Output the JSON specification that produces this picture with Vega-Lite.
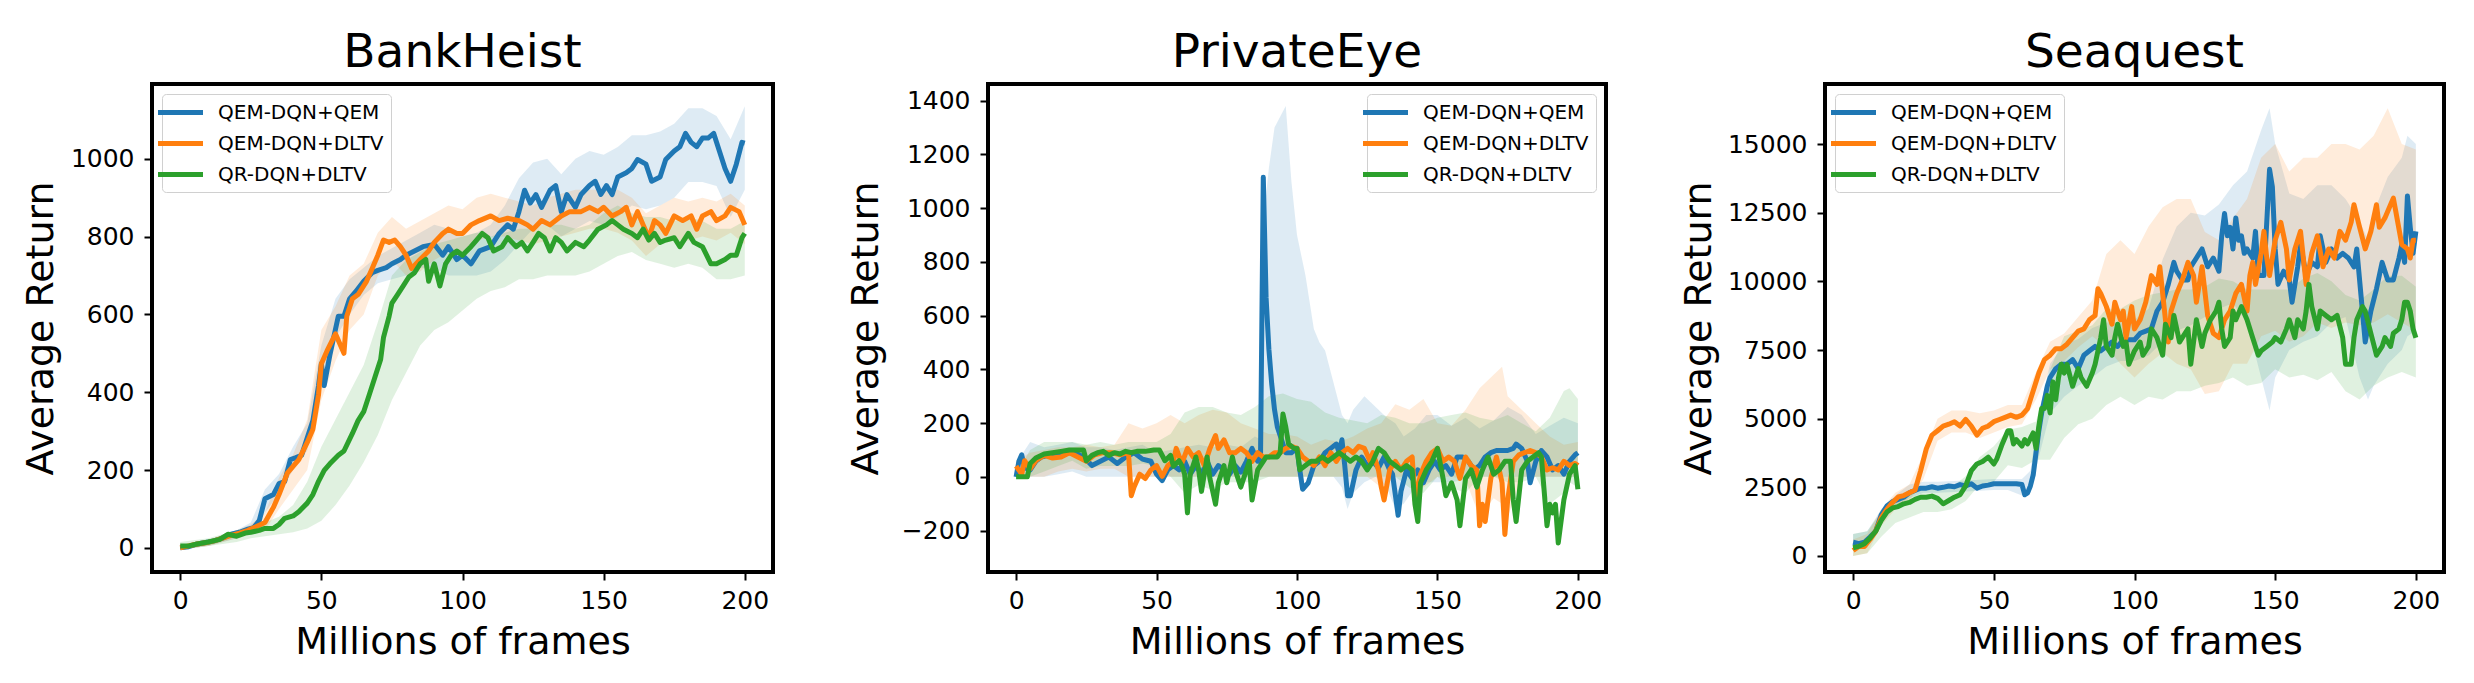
{
  "$schema": "https://vega.github.io/schema/vega-lite/v6.json",
  "background": "white",
  "padding": {"left": 20, "top": 27, "right": 5, "bottom": 5},
  "spacing": 70,
  "config": {
    "font": "DejaVu Sans",
    "view": {"stroke": "black", "strokeWidth": 4},
    "axis": {"domain": false, "grid": false, "tickColor": "black", "tickWidth": 2, "tickSize": 8, "labelFontSize": 25, "labelColor": "black", "labelFont": "DejaVu Sans", "titleFontSize": 38, "titleFontWeight": "normal", "titleColor": "black", "titleFont": "DejaVu Sans", "labelFlush": false, "labelOverlap": false},
    "axisX": {"labelPadding": 8, "titlePadding": 10},
    "axisY": {"labelPadding": 10, "titlePadding": 10},
    "title": {"fontSize": 47, "fontWeight": "normal", "font": "DejaVu Sans", "color": "black", "anchor": "middle", "offset": 7, "baseline": "top"},
    "legend": {"offset": 10, "symbolType": "M-2.5,0H2.5", "symbolSize": 324, "symbolStrokeWidth": 5, "symbolOpacity": 1, "rowPadding": 9, "labelFontSize": 20, "labelLimit": 400, "labelFont": "DejaVu Sans", "labelColor": "black", "labelOffset": 26, "padding": 7, "fillColor": "white", "strokeColor": "#d0d0d0", "cornerRadius": 4},
    "line": {"strokeWidth": 5, "strokeJoin": "round"}
  },
  "datasets": {
    "bh_q": [{"x":0,"y":0},{"x":3,"y":3},{"x":6,"y":10},{"x":9,"y":14},{"x":12,"y":18},{"x":15,"y":25},{"x":18,"y":35},{"x":21,"y":40},{"x":24,"y":48},{"x":26,"y":52},{"x":28,"y":70},{"x":30,"y":126},{"x":33,"y":137},{"x":35,"y":165},{"x":37,"y":170},{"x":39,"y":227},{"x":41,"y":232},{"x":43,"y":238},{"x":45,"y":283},{"x":47,"y":327},{"x":49,"y":417},{"x":50,"y":473},{"x":51,"y":417},{"x":53,"y":495},{"x":56,"y":595},{"x":58,"y":595},{"x":60,"y":640},{"x":62,"y":657},{"x":65,"y":685},{"x":68,"y":707},{"x":70,"y":713},{"x":73,"y":720},{"x":75,"y":730},{"x":78,"y":741},{"x":80,"y":752},{"x":83,"y":763},{"x":86,"y":774},{"x":90,"y":780},{"x":93,"y":752},{"x":95,"y":774},{"x":98,"y":741},{"x":100,"y":752},{"x":103,"y":730},{"x":106,"y":763},{"x":110,"y":774},{"x":113,"y":808},{"x":116,"y":830},{"x":118,"y":819},{"x":120,"y":864},{"x":122,"y":919},{"x":124,"y":886},{"x":126,"y":908},{"x":128,"y":875},{"x":131,"y":919},{"x":133,"y":931},{"x":135,"y":864},{"x":137,"y":908},{"x":140,"y":875},{"x":142,"y":908},{"x":145,"y":931},{"x":147,"y":942},{"x":149,"y":908},{"x":151,"y":931},{"x":153,"y":908},{"x":155,"y":953},{"x":158,"y":964},{"x":160,"y":975},{"x":162,"y":998},{"x":165,"y":986},{"x":167,"y":942},{"x":170,"y":953},{"x":172,"y":998},{"x":175,"y":1020},{"x":177,"y":1031},{"x":179,"y":1065},{"x":181,"y":1042},{"x":183,"y":1031},{"x":185,"y":1053},{"x":187,"y":1053},{"x":189,"y":1065},{"x":191,"y":1020},{"x":193,"y":975},{"x":195,"y":942},{"x":197,"y":986},{"x":199,"y":1042},{"x":200,"y":1040}],
    "bh_d": [{"x":0,"y":0},{"x":3,"y":5},{"x":6,"y":10},{"x":9,"y":13},{"x":12,"y":18},{"x":15,"y":25},{"x":18,"y":32},{"x":21,"y":38},{"x":24,"y":45},{"x":27,"y":55},{"x":30,"y":65},{"x":33,"y":104},{"x":35,"y":137},{"x":38,"y":193},{"x":42,"y":227},{"x":45,"y":271},{"x":47,"y":305},{"x":49,"y":394},{"x":50,"y":473},{"x":52,"y":506},{"x":55,"y":550},{"x":57,"y":517},{"x":58,"y":500},{"x":59,"y":595},{"x":61,"y":640},{"x":63,"y":651},{"x":66,"y":685},{"x":68,"y":718},{"x":70,"y":752},{"x":72,"y":791},{"x":74,"y":785},{"x":76,"y":791},{"x":78,"y":774},{"x":80,"y":752},{"x":82,"y":718},{"x":85,"y":741},{"x":88,"y":763},{"x":90,"y":785},{"x":93,"y":808},{"x":95,"y":819},{"x":98,"y":808},{"x":100,"y":808},{"x":103,"y":830},{"x":106,"y":841},{"x":110,"y":853},{"x":113,"y":841},{"x":116,"y":847},{"x":120,"y":841},{"x":123,"y":830},{"x":125,"y":819},{"x":128,"y":841},{"x":131,"y":830},{"x":135,"y":853},{"x":138,"y":864},{"x":142,"y":864},{"x":145,"y":875},{"x":148,"y":864},{"x":150,"y":875},{"x":153,"y":853},{"x":156,"y":864},{"x":158,"y":875},{"x":160,"y":830},{"x":162,"y":864},{"x":164,"y":830},{"x":166,"y":797},{"x":168,"y":841},{"x":170,"y":830},{"x":172,"y":808},{"x":175,"y":853},{"x":178,"y":841},{"x":181,"y":853},{"x":183,"y":819},{"x":185,"y":853},{"x":188,"y":864},{"x":190,"y":841},{"x":193,"y":853},{"x":195,"y":875},{"x":198,"y":864},{"x":200,"y":830}],
    "bh_r": [{"x":0,"y":5},{"x":3,"y":5},{"x":6,"y":10},{"x":10,"y":15},{"x":14,"y":22},{"x":17,"y":35},{"x":20,"y":30},{"x":23,"y":38},{"x":25,"y":40},{"x":28,"y":45},{"x":30,"y":50},{"x":33,"y":50},{"x":35,"y":60},{"x":37,"y":76},{"x":40,"y":82},{"x":42,"y":93},{"x":45,"y":115},{"x":47,"y":137},{"x":49,"y":171},{"x":51,"y":199},{"x":53,"y":216},{"x":56,"y":238},{"x":58,"y":249},{"x":61,"y":294},{"x":63,"y":327},{"x":65,"y":350},{"x":67,"y":394},{"x":69,"y":439},{"x":71,"y":484},{"x":72,"y":540},{"x":74,"y":595},{"x":75,"y":629},{"x":77,"y":651},{"x":79,"y":673},{"x":81,"y":696},{"x":83,"y":707},{"x":85,"y":730},{"x":87,"y":741},{"x":88,"y":685},{"x":90,"y":730},{"x":92,"y":673},{"x":94,"y":730},{"x":96,"y":752},{"x":98,"y":763},{"x":100,"y":752},{"x":103,"y":774},{"x":105,"y":791},{"x":107,"y":808},{"x":109,"y":797},{"x":111,"y":763},{"x":114,"y":774},{"x":116,"y":797},{"x":119,"y":774},{"x":121,"y":785},{"x":123,"y":763},{"x":125,"y":785},{"x":127,"y":808},{"x":129,"y":797},{"x":131,"y":763},{"x":133,"y":797},{"x":135,"y":785},{"x":137,"y":763},{"x":140,"y":785},{"x":143,"y":774},{"x":145,"y":791},{"x":148,"y":819},{"x":151,"y":830},{"x":153,"y":841},{"x":155,"y":830},{"x":157,"y":819},{"x":160,"y":808},{"x":162,"y":797},{"x":164,"y":819},{"x":166,"y":791},{"x":168,"y":808},{"x":170,"y":785},{"x":172,"y":791},{"x":175,"y":797},{"x":177,"y":774},{"x":180,"y":808},{"x":182,"y":785},{"x":185,"y":774},{"x":188,"y":730},{"x":190,"y":730},{"x":193,"y":741},{"x":195,"y":752},{"x":197,"y":752},{"x":199,"y":797},{"x":200,"y":808}],
    "bh_q_band": [{"x":0,"lo":-5,"hi":5},{"x":10,"lo":5,"hi":20},{"x":20,"lo":25,"hi":45},{"x":25,"lo":40,"hi":65},{"x":30,"lo":90,"hi":150},{"x":35,"lo":140,"hi":190},{"x":40,"lo":200,"hi":260},{"x":45,"lo":250,"hi":320},{"x":50,"lo":420,"hi":520},{"x":55,"lo":540,"hi":640},{"x":60,"lo":600,"hi":690},{"x":65,"lo":650,"hi":720},{"x":70,"lo":680,"hi":750},{"x":75,"lo":690,"hi":770},{"x":80,"lo":700,"hi":790},{"x":85,"lo":720,"hi":810},{"x":90,"lo":720,"hi":830},{"x":95,"lo":700,"hi":820},{"x":100,"lo":700,"hi":800},{"x":105,"lo":700,"hi":810},{"x":110,"lo":710,"hi":830},{"x":115,"lo":740,"hi":880},{"x":120,"lo":780,"hi":950},{"x":125,"lo":820,"hi":990},{"x":130,"lo":830,"hi":1000},{"x":135,"lo":800,"hi":960},{"x":140,"lo":820,"hi":1000},{"x":145,"lo":840,"hi":1020},{"x":150,"lo":830,"hi":1010},{"x":155,"lo":850,"hi":1030},{"x":160,"lo":880,"hi":1060},{"x":165,"lo":870,"hi":1060},{"x":170,"lo":880,"hi":1070},{"x":175,"lo":900,"hi":1090},{"x":180,"lo":940,"hi":1130},{"x":185,"lo":940,"hi":1130},{"x":190,"lo":930,"hi":1110},{"x":195,"lo":850,"hi":1050},{"x":200,"lo":920,"hi":1135}],
    "bh_d_band": [{"x":0,"lo":-5,"hi":5},{"x":10,"lo":5,"hi":20},{"x":20,"lo":25,"hi":45},{"x":25,"lo":35,"hi":60},{"x":30,"lo":45,"hi":90},{"x":35,"lo":100,"hi":180},{"x":40,"lo":150,"hi":240},{"x":45,"lo":200,"hi":330},{"x":50,"lo":380,"hi":560},{"x":55,"lo":480,"hi":620},{"x":60,"lo":560,"hi":700},{"x":65,"lo":600,"hi":730},{"x":70,"lo":700,"hi":810},{"x":75,"lo":740,"hi":850},{"x":80,"lo":700,"hi":820},{"x":85,"lo":710,"hi":840},{"x":90,"lo":740,"hi":860},{"x":95,"lo":760,"hi":880},{"x":100,"lo":760,"hi":870},{"x":105,"lo":790,"hi":900},{"x":110,"lo":800,"hi":910},{"x":115,"lo":800,"hi":900},{"x":120,"lo":790,"hi":890},{"x":125,"lo":780,"hi":880},{"x":130,"lo":790,"hi":900},{"x":135,"lo":800,"hi":910},{"x":140,"lo":810,"hi":920},{"x":145,"lo":820,"hi":920},{"x":150,"lo":820,"hi":920},{"x":155,"lo":810,"hi":920},{"x":160,"lo":790,"hi":900},{"x":165,"lo":750,"hi":860},{"x":170,"lo":780,"hi":880},{"x":175,"lo":790,"hi":900},{"x":180,"lo":790,"hi":890},{"x":185,"lo":800,"hi":900},{"x":190,"lo":790,"hi":890},{"x":195,"lo":810,"hi":910},{"x":200,"lo":780,"hi":880}],
    "bh_r_band": [{"x":0,"lo":-5,"hi":15},{"x":10,"lo":5,"hi":25},{"x":20,"lo":15,"hi":45},{"x":25,"lo":25,"hi":55},{"x":30,"lo":30,"hi":65},{"x":35,"lo":35,"hi":80},{"x":40,"lo":40,"hi":110},{"x":45,"lo":50,"hi":170},{"x":50,"lo":70,"hi":260},{"x":55,"lo":110,"hi":330},{"x":60,"lo":160,"hi":400},{"x":65,"lo":220,"hi":470},{"x":70,"lo":290,"hi":580},{"x":75,"lo":380,"hi":700},{"x":80,"lo":450,"hi":740},{"x":85,"lo":520,"hi":760},{"x":90,"lo":560,"hi":780},{"x":95,"lo":580,"hi":790},{"x":100,"lo":610,"hi":800},{"x":105,"lo":640,"hi":810},{"x":110,"lo":660,"hi":800},{"x":115,"lo":670,"hi":810},{"x":120,"lo":690,"hi":820},{"x":125,"lo":690,"hi":820},{"x":130,"lo":700,"hi":830},{"x":135,"lo":700,"hi":830},{"x":140,"lo":700,"hi":820},{"x":145,"lo":710,"hi":830},{"x":150,"lo":730,"hi":860},{"x":155,"lo":750,"hi":880},{"x":160,"lo":760,"hi":860},{"x":165,"lo":740,"hi":850},{"x":170,"lo":730,"hi":850},{"x":175,"lo":720,"hi":840},{"x":180,"lo":730,"hi":850},{"x":185,"lo":720,"hi":840},{"x":190,"lo":690,"hi":820},{"x":195,"lo":690,"hi":820},{"x":200,"lo":700,"hi":840}],
    "pe_q": [{"x":0,"y":0},{"x":1,"y":58},{"x":2,"y":82},{"x":3,"y":34},{"x":5,"y":26},{"x":7,"y":58},{"x":9,"y":74},{"x":12,"y":82},{"x":15,"y":90},{"x":18,"y":90},{"x":21,"y":90},{"x":24,"y":74},{"x":27,"y":42},{"x":30,"y":58},{"x":33,"y":74},{"x":36,"y":50},{"x":39,"y":74},{"x":42,"y":90},{"x":45,"y":66},{"x":48,"y":58},{"x":50,"y":10},{"x":52,"y":-14},{"x":54,"y":26},{"x":56,"y":42},{"x":58,"y":26},{"x":60,"y":58},{"x":62,"y":10},{"x":64,"y":42},{"x":66,"y":10},{"x":68,"y":58},{"x":70,"y":10},{"x":72,"y":42},{"x":74,"y":26},{"x":76,"y":10},{"x":78,"y":42},{"x":80,"y":18},{"x":82,"y":58},{"x":84,"y":106},{"x":86,"y":58},{"x":87,"y":58},{"x":88,"y":1115},{"x":89,"y":666},{"x":90,"y":474},{"x":91,"y":346},{"x":92,"y":250},{"x":93,"y":186},{"x":94,"y":154},{"x":95,"y":122},{"x":96,"y":90},{"x":98,"y":90},{"x":100,"y":106},{"x":101,"y":26},{"x":102,"y":-46},{"x":104,"y":-22},{"x":106,"y":42},{"x":108,"y":58},{"x":110,"y":90},{"x":112,"y":106},{"x":114,"y":122},{"x":115,"y":90},{"x":116,"y":138},{"x":117,"y":42},{"x":118,"y":-70},{"x":119,"y":-70},{"x":121,"y":26},{"x":123,"y":74},{"x":125,"y":42},{"x":127,"y":58},{"x":129,"y":34},{"x":131,"y":74},{"x":133,"y":26},{"x":134,"y":10},{"x":136,"y":-143},{"x":137,"y":-54},{"x":139,"y":26},{"x":141,"y":-6},{"x":143,"y":26},{"x":145,"y":-22},{"x":147,"y":26},{"x":149,"y":58},{"x":151,"y":26},{"x":153,"y":42},{"x":155,"y":10},{"x":157,"y":74},{"x":159,"y":74},{"x":161,"y":58},{"x":163,"y":26},{"x":165,"y":42},{"x":167,"y":74},{"x":169,"y":90},{"x":171,"y":98},{"x":173,"y":98},{"x":175,"y":98},{"x":177,"y":106},{"x":178,"y":122},{"x":180,"y":106},{"x":182,"y":58},{"x":183,"y":-22},{"x":185,"y":58},{"x":187,"y":98},{"x":189,"y":74},{"x":191,"y":26},{"x":193,"y":42},{"x":195,"y":10},{"x":197,"y":58},{"x":199,"y":82},{"x":200,"y":90}],
    "pe_d": [{"x":0,"y":40},{"x":2,"y":10},{"x":3,"y":60},{"x":5,"y":30},{"x":7,"y":60},{"x":10,"y":80},{"x":13,"y":70},{"x":16,"y":74},{"x":19,"y":90},{"x":22,"y":74},{"x":25,"y":58},{"x":28,"y":82},{"x":31,"y":90},{"x":34,"y":90},{"x":37,"y":82},{"x":40,"y":90},{"x":41,"y":-70},{"x":42,"y":-38},{"x":44,"y":10},{"x":46,"y":-6},{"x":48,"y":26},{"x":50,"y":42},{"x":52,"y":2},{"x":54,"y":42},{"x":56,"y":58},{"x":57,"y":106},{"x":59,"y":50},{"x":61,"y":106},{"x":63,"y":74},{"x":65,"y":90},{"x":67,"y":42},{"x":69,"y":106},{"x":71,"y":154},{"x":72,"y":106},{"x":74,"y":138},{"x":76,"y":90},{"x":78,"y":90},{"x":80,"y":106},{"x":82,"y":90},{"x":84,"y":58},{"x":86,"y":90},{"x":88,"y":74},{"x":90,"y":74},{"x":92,"y":90},{"x":94,"y":90},{"x":96,"y":106},{"x":98,"y":114},{"x":100,"y":106},{"x":102,"y":74},{"x":104,"y":58},{"x":106,"y":42},{"x":108,"y":74},{"x":110,"y":42},{"x":112,"y":90},{"x":114,"y":58},{"x":116,"y":90},{"x":118,"y":106},{"x":120,"y":90},{"x":122,"y":114},{"x":124,"y":106},{"x":126,"y":58},{"x":127,"y":90},{"x":129,"y":26},{"x":130,"y":-38},{"x":131,"y":-86},{"x":133,"y":26},{"x":135,"y":58},{"x":137,"y":26},{"x":139,"y":58},{"x":141,"y":74},{"x":142,"y":-86},{"x":144,"y":10},{"x":146,"y":58},{"x":148,"y":90},{"x":150,"y":106},{"x":152,"y":58},{"x":154,"y":74},{"x":156,"y":58},{"x":158,"y":-6},{"x":160,"y":74},{"x":162,"y":42},{"x":164,"y":26},{"x":165,"y":-182},{"x":166,"y":-102},{"x":167,"y":-166},{"x":169,"y":-6},{"x":171,"y":74},{"x":173,"y":-22},{"x":174,"y":-214},{"x":175,"y":-86},{"x":177,"y":58},{"x":179,"y":82},{"x":181,"y":90},{"x":183,"y":98},{"x":185,"y":90},{"x":187,"y":74},{"x":189,"y":26},{"x":191,"y":34},{"x":193,"y":26},{"x":195,"y":58},{"x":197,"y":42},{"x":199,"y":50},{"x":200,"y":42}],
    "pe_r": [{"x":0,"y":0},{"x":4,"y":0},{"x":5,"y":50},{"x":7,"y":70},{"x":10,"y":85},{"x":13,"y":90},{"x":16,"y":95},{"x":19,"y":100},{"x":22,"y":100},{"x":24,"y":100},{"x":25,"y":60},{"x":27,"y":80},{"x":29,"y":90},{"x":31,"y":95},{"x":33,"y":80},{"x":35,"y":90},{"x":37,"y":85},{"x":39,"y":95},{"x":41,"y":90},{"x":43,"y":95},{"x":46,"y":95},{"x":49,"y":100},{"x":51,"y":100},{"x":53,"y":60},{"x":55,"y":80},{"x":56,"y":40},{"x":58,"y":60},{"x":59,"y":42},{"x":60,"y":10},{"x":61,"y":-134},{"x":62,"y":10},{"x":64,"y":74},{"x":65,"y":26},{"x":66,"y":-54},{"x":67,"y":10},{"x":68,"y":74},{"x":69,"y":-6},{"x":71,"y":-102},{"x":72,"y":-22},{"x":74,"y":42},{"x":75,"y":-22},{"x":77,"y":74},{"x":78,"y":26},{"x":80,"y":-38},{"x":82,"y":26},{"x":83,"y":58},{"x":84,"y":-86},{"x":86,"y":26},{"x":88,"y":58},{"x":89,"y":74},{"x":91,"y":74},{"x":93,"y":74},{"x":94,"y":90},{"x":95,"y":234},{"x":96,"y":186},{"x":97,"y":122},{"x":99,"y":106},{"x":100,"y":106},{"x":101,"y":26},{"x":103,"y":42},{"x":105,"y":58},{"x":107,"y":58},{"x":109,"y":74},{"x":111,"y":58},{"x":113,"y":74},{"x":115,"y":90},{"x":117,"y":74},{"x":119,"y":58},{"x":121,"y":74},{"x":123,"y":58},{"x":125,"y":26},{"x":127,"y":58},{"x":129,"y":106},{"x":131,"y":90},{"x":133,"y":58},{"x":135,"y":42},{"x":137,"y":26},{"x":139,"y":42},{"x":141,"y":26},{"x":142,"y":-102},{"x":143,"y":-166},{"x":144,"y":-22},{"x":146,"y":26},{"x":148,"y":58},{"x":150,"y":106},{"x":152,"y":-6},{"x":153,"y":-70},{"x":155,"y":-22},{"x":157,"y":-86},{"x":158,"y":-182},{"x":160,"y":-6},{"x":162,"y":26},{"x":164,"y":-38},{"x":166,"y":26},{"x":168,"y":74},{"x":170,"y":10},{"x":172,"y":26},{"x":174,"y":58},{"x":176,"y":58},{"x":177,"y":-86},{"x":178,"y":-166},{"x":180,"y":26},{"x":182,"y":58},{"x":184,"y":74},{"x":186,"y":90},{"x":187,"y":74},{"x":189,"y":-182},{"x":190,"y":-102},{"x":191,"y":-134},{"x":192,"y":-102},{"x":193,"y":-246},{"x":195,"y":-86},{"x":197,"y":10},{"x":199,"y":42},{"x":200,"y":-46}],
    "pe_q_band": [{"x":0,"lo":0,"hi":50},{"x":5,"lo":0,"hi":130},{"x":10,"lo":0,"hi":110},{"x":15,"lo":10,"hi":120},{"x":20,"lo":20,"hi":130},{"x":25,"lo":0,"hi":110},{"x":30,"lo":0,"hi":110},{"x":35,"lo":0,"hi":100},{"x":40,"lo":0,"hi":110},{"x":45,"lo":0,"hi":120},{"x":50,"lo":0,"hi":90},{"x":55,"lo":0,"hi":100},{"x":60,"lo":0,"hi":110},{"x":65,"lo":0,"hi":120},{"x":70,"lo":0,"hi":110},{"x":75,"lo":0,"hi":120},{"x":80,"lo":0,"hi":110},{"x":85,"lo":0,"hi":150},{"x":87,"lo":0,"hi":140},{"x":88,"lo":0,"hi":950},{"x":90,"lo":0,"hi":1150},{"x":92,"lo":0,"hi":1300},{"x":94,"lo":0,"hi":1340},{"x":96,"lo":0,"hi":1380},{"x":98,"lo":0,"hi":1100},{"x":100,"lo":0,"hi":900},{"x":103,"lo":0,"hi":750},{"x":106,"lo":0,"hi":550},{"x":108,"lo":0,"hi":500},{"x":110,"lo":0,"hi":470},{"x":113,"lo":0,"hi":350},{"x":116,"lo":-40,"hi":230},{"x":118,"lo":-120,"hi":200},{"x":120,"lo":-60,"hi":250},{"x":124,"lo":-20,"hi":300},{"x":128,"lo":0,"hi":260},{"x":132,"lo":-40,"hi":220},{"x":135,"lo":-120,"hi":200},{"x":138,"lo":-100,"hi":150},{"x":142,"lo":-40,"hi":180},{"x":146,"lo":-20,"hi":230},{"x":150,"lo":-20,"hi":230},{"x":155,"lo":-20,"hi":190},{"x":160,"lo":-10,"hi":220},{"x":165,"lo":0,"hi":180},{"x":170,"lo":0,"hi":210},{"x":175,"lo":0,"hi":260},{"x":180,"lo":0,"hi":230},{"x":185,"lo":0,"hi":160},{"x":190,"lo":0,"hi":190},{"x":195,"lo":0,"hi":220},{"x":200,"lo":0,"hi":200}],
    "pe_d_band": [{"x":0,"lo":0,"hi":60},{"x":5,"lo":0,"hi":90},{"x":10,"lo":0,"hi":100},{"x":15,"lo":20,"hi":110},{"x":20,"lo":30,"hi":110},{"x":25,"lo":20,"hi":120},{"x":30,"lo":30,"hi":110},{"x":35,"lo":30,"hi":120},{"x":40,"lo":0,"hi":200},{"x":45,"lo":0,"hi":180},{"x":50,"lo":0,"hi":200},{"x":55,"lo":0,"hi":230},{"x":60,"lo":0,"hi":200},{"x":65,"lo":0,"hi":230},{"x":70,"lo":0,"hi":250},{"x":75,"lo":0,"hi":240},{"x":80,"lo":0,"hi":200},{"x":85,"lo":0,"hi":180},{"x":90,"lo":0,"hi":160},{"x":95,"lo":0,"hi":160},{"x":100,"lo":0,"hi":150},{"x":105,"lo":0,"hi":120},{"x":110,"lo":0,"hi":140},{"x":115,"lo":0,"hi":130},{"x":120,"lo":0,"hi":150},{"x":125,"lo":0,"hi":180},{"x":130,"lo":-40,"hi":200},{"x":135,"lo":0,"hi":270},{"x":140,"lo":0,"hi":250},{"x":145,"lo":-40,"hi":290},{"x":150,"lo":0,"hi":200},{"x":155,"lo":0,"hi":190},{"x":160,"lo":-10,"hi":250},{"x":165,"lo":-150,"hi":330},{"x":170,"lo":-80,"hi":380},{"x":173,"lo":-100,"hi":410},{"x":175,"lo":-150,"hi":300},{"x":180,"lo":0,"hi":250},{"x":185,"lo":0,"hi":200},{"x":190,"lo":0,"hi":150},{"x":195,"lo":0,"hi":120},{"x":200,"lo":0,"hi":130}],
    "pe_r_band": [{"x":0,"lo":0,"hi":10},{"x":5,"lo":0,"hi":100},{"x":10,"lo":20,"hi":130},{"x":15,"lo":40,"hi":130},{"x":20,"lo":60,"hi":130},{"x":25,"lo":30,"hi":120},{"x":30,"lo":40,"hi":130},{"x":35,"lo":40,"hi":120},{"x":40,"lo":40,"hi":130},{"x":45,"lo":50,"hi":130},{"x":50,"lo":40,"hi":130},{"x":55,"lo":0,"hi":160},{"x":60,"lo":-60,"hi":240},{"x":65,"lo":-30,"hi":260},{"x":70,"lo":-50,"hi":260},{"x":75,"lo":-20,"hi":240},{"x":80,"lo":-20,"hi":230},{"x":85,"lo":-20,"hi":260},{"x":90,"lo":0,"hi":300},{"x":95,"lo":0,"hi":310},{"x":100,"lo":0,"hi":290},{"x":105,"lo":0,"hi":280},{"x":110,"lo":0,"hi":240},{"x":115,"lo":0,"hi":220},{"x":120,"lo":0,"hi":210},{"x":125,"lo":0,"hi":200},{"x":130,"lo":0,"hi":230},{"x":135,"lo":0,"hi":220},{"x":140,"lo":-40,"hi":200},{"x":145,"lo":-60,"hi":200},{"x":150,"lo":0,"hi":220},{"x":155,"lo":-40,"hi":230},{"x":160,"lo":-60,"hi":240},{"x":165,"lo":0,"hi":220},{"x":170,"lo":0,"hi":210},{"x":175,"lo":-20,"hi":230},{"x":180,"lo":-20,"hi":200},{"x":185,"lo":0,"hi":170},{"x":190,"lo":-100,"hi":220},{"x":195,"lo":-60,"hi":320},{"x":197,"lo":-20,"hi":330},{"x":200,"lo":-40,"hi":290}],
    "sq_q": [{"x":0,"y":500},{"x":2,"y":450},{"x":4,"y":500},{"x":6,"y":690},{"x":8,"y":900},{"x":10,"y":1500},{"x":12,"y":1820},{"x":14,"y":1980},{"x":16,"y":2060},{"x":18,"y":2140},{"x":20,"y":2300},{"x":22,"y":2390},{"x":24,"y":2470},{"x":26,"y":2470},{"x":28,"y":2520},{"x":30,"y":2470},{"x":32,"y":2500},{"x":34,"y":2550},{"x":36,"y":2520},{"x":38,"y":2600},{"x":40,"y":2550},{"x":42,"y":2630},{"x":44,"y":2470},{"x":46,"y":2550},{"x":48,"y":2580},{"x":50,"y":2630},{"x":52,"y":2630},{"x":54,"y":2630},{"x":56,"y":2630},{"x":58,"y":2630},{"x":60,"y":2600},{"x":61,"y":2230},{"x":62,"y":2300},{"x":63,"y":2550},{"x":64,"y":2950},{"x":65,"y":3760},{"x":66,"y":4560},{"x":67,"y":5210},{"x":68,"y":5690},{"x":69,"y":6180},{"x":70,"y":6500},{"x":72,"y":6820},{"x":74,"y":6980},{"x":76,"y":6980},{"x":78,"y":7150},{"x":80,"y":6820},{"x":82,"y":7310},{"x":84,"y":7470},{"x":86,"y":7630},{"x":88,"y":7470},{"x":90,"y":7630},{"x":92,"y":7790},{"x":94,"y":7630},{"x":96,"y":7870},{"x":98,"y":7870},{"x":100,"y":7870},{"x":102,"y":8110},{"x":104,"y":8190},{"x":106,"y":8270},{"x":108,"y":8920},{"x":110,"y":9240},{"x":112,"y":9890},{"x":114,"y":10690},{"x":115,"y":10370},{"x":117,"y":10050},{"x":119,"y":10050},{"x":120,"y":10530},{"x":122,"y":10850},{"x":124,"y":11180},{"x":126,"y":10530},{"x":128,"y":10850},{"x":130,"y":10370},{"x":131,"y":11660},{"x":132,"y":12470},{"x":133,"y":11660},{"x":134,"y":11970},{"x":135,"y":11180},{"x":136,"y":12310},{"x":137,"y":11500},{"x":138,"y":11660},{"x":139,"y":11020},{"x":140,"y":11180},{"x":142,"y":10850},{"x":143,"y":11820},{"x":144,"y":10210},{"x":146,"y":10210},{"x":147,"y":12150},{"x":148,"y":14080},{"x":149,"y":13440},{"x":150,"y":11180},{"x":151,"y":9890},{"x":153,"y":10370},{"x":155,"y":10050},{"x":156,"y":9240},{"x":158,"y":10530},{"x":159,"y":11340},{"x":161,"y":10210},{"x":163,"y":10690},{"x":165,"y":10530},{"x":166,"y":11660},{"x":168,"y":10690},{"x":170,"y":11180},{"x":172,"y":10850},{"x":174,"y":11020},{"x":176,"y":10850},{"x":178,"y":10530},{"x":179,"y":11180},{"x":180,"y":10050},{"x":181,"y":8920},{"x":182,"y":7790},{"x":184,"y":8920},{"x":186,"y":9730},{"x":188,"y":10690},{"x":190,"y":10050},{"x":192,"y":10050},{"x":194,"y":10850},{"x":195,"y":11340},{"x":196,"y":10690},{"x":197,"y":13110},{"x":198,"y":11970},{"x":199,"y":11020},{"x":200,"y":11820}],
    "sq_d": [{"x":0,"y":200},{"x":2,"y":350},{"x":4,"y":350},{"x":6,"y":600},{"x":8,"y":900},{"x":10,"y":1400},{"x":12,"y":1700},{"x":14,"y":1950},{"x":16,"y":2150},{"x":18,"y":2200},{"x":20,"y":2300},{"x":22,"y":2400},{"x":24,"y":3110},{"x":26,"y":3900},{"x":28,"y":4400},{"x":30,"y":4560},{"x":32,"y":4730},{"x":34,"y":4800},{"x":36,"y":4890},{"x":38,"y":4730},{"x":40,"y":4970},{"x":42,"y":4730},{"x":44,"y":4400},{"x":46,"y":4650},{"x":48,"y":4730},{"x":50,"y":4890},{"x":52,"y":4970},{"x":54,"y":5050},{"x":56,"y":5130},{"x":58,"y":5050},{"x":60,"y":5130},{"x":62,"y":5370},{"x":64,"y":6020},{"x":66,"y":6660},{"x":68,"y":7150},{"x":70,"y":7310},{"x":72,"y":7550},{"x":74,"y":7550},{"x":76,"y":7710},{"x":78,"y":7950},{"x":80,"y":8190},{"x":82,"y":8270},{"x":84,"y":8600},{"x":86,"y":8760},{"x":87,"y":9730},{"x":88,"y":9560},{"x":90,"y":9080},{"x":92,"y":8440},{"x":93,"y":9240},{"x":95,"y":8600},{"x":96,"y":8920},{"x":97,"y":7950},{"x":99,"y":9080},{"x":100,"y":8270},{"x":102,"y":8600},{"x":104,"y":9240},{"x":106,"y":10210},{"x":108,"y":9890},{"x":109,"y":10530},{"x":111,"y":8600},{"x":112,"y":7790},{"x":113,"y":8920},{"x":115,"y":9560},{"x":117,"y":10050},{"x":119,"y":10690},{"x":121,"y":10210},{"x":122,"y":9240},{"x":124,"y":10530},{"x":126,"y":8760},{"x":128,"y":8110},{"x":130,"y":7950},{"x":132,"y":8600},{"x":134,"y":8920},{"x":136,"y":9560},{"x":138,"y":9890},{"x":140,"y":8920},{"x":141,"y":10210},{"x":142,"y":10690},{"x":143,"y":9890},{"x":145,"y":11020},{"x":146,"y":11820},{"x":147,"y":10850},{"x":148,"y":10210},{"x":150,"y":11500},{"x":152,"y":12150},{"x":154,"y":11180},{"x":155,"y":10050},{"x":157,"y":11180},{"x":159,"y":11820},{"x":161,"y":9890},{"x":163,"y":11020},{"x":165,"y":11660},{"x":167,"y":10530},{"x":169,"y":11180},{"x":171,"y":10850},{"x":173,"y":11820},{"x":175,"y":11500},{"x":177,"y":12150},{"x":178,"y":12790},{"x":180,"y":11970},{"x":182,"y":11180},{"x":184,"y":11820},{"x":186,"y":12790},{"x":187,"y":11970},{"x":189,"y":12310},{"x":191,"y":12790},{"x":192,"y":13030},{"x":193,"y":12470},{"x":195,"y":11340},{"x":197,"y":11180},{"x":198,"y":10850},{"x":199,"y":11500},{"x":200,"y":11500}],
    "sq_r": [{"x":0,"y":300},{"x":2,"y":350},{"x":4,"y":450},{"x":6,"y":650},{"x":8,"y":900},{"x":10,"y":1300},{"x":12,"y":1600},{"x":14,"y":1750},{"x":16,"y":1800},{"x":18,"y":1900},{"x":20,"y":1950},{"x":22,"y":2060},{"x":24,"y":2140},{"x":26,"y":2140},{"x":28,"y":2180},{"x":30,"y":2100},{"x":32,"y":1900},{"x":34,"y":2020},{"x":36,"y":2140},{"x":38,"y":2230},{"x":40,"y":2550},{"x":42,"y":3110},{"x":44,"y":3350},{"x":46,"y":3440},{"x":48,"y":3600},{"x":50,"y":3350},{"x":51,"y":3520},{"x":53,"y":4080},{"x":55,"y":4560},{"x":56,"y":4560},{"x":57,"y":4080},{"x":58,"y":4240},{"x":60,"y":4000},{"x":61,"y":4240},{"x":62,"y":4080},{"x":64,"y":4480},{"x":65,"y":3920},{"x":66,"y":4730},{"x":67,"y":5370},{"x":68,"y":5370},{"x":69,"y":5850},{"x":70,"y":5210},{"x":71,"y":6340},{"x":72,"y":5690},{"x":73,"y":6500},{"x":74,"y":6980},{"x":75,"y":6660},{"x":76,"y":6980},{"x":78,"y":6180},{"x":80,"y":6820},{"x":81,"y":6500},{"x":83,"y":6180},{"x":85,"y":6660},{"x":86,"y":6980},{"x":88,"y":7950},{"x":89,"y":8600},{"x":90,"y":7630},{"x":92,"y":7310},{"x":93,"y":7950},{"x":94,"y":8440},{"x":96,"y":7630},{"x":97,"y":7790},{"x":98,"y":6980},{"x":100,"y":7470},{"x":102,"y":7790},{"x":103,"y":7310},{"x":105,"y":7630},{"x":106,"y":8270},{"x":108,"y":7950},{"x":110,"y":7310},{"x":111,"y":8440},{"x":113,"y":7950},{"x":114,"y":8760},{"x":116,"y":7790},{"x":117,"y":7950},{"x":119,"y":8270},{"x":120,"y":6980},{"x":122,"y":8600},{"x":124,"y":7630},{"x":125,"y":8110},{"x":127,"y":8600},{"x":129,"y":8920},{"x":130,"y":9240},{"x":131,"y":8270},{"x":132,"y":7630},{"x":134,"y":7950},{"x":135,"y":8920},{"x":136,"y":8600},{"x":138,"y":9080},{"x":140,"y":8600},{"x":142,"y":7950},{"x":144,"y":7310},{"x":145,"y":7470},{"x":147,"y":7630},{"x":149,"y":7790},{"x":150,"y":7950},{"x":152,"y":7790},{"x":154,"y":8270},{"x":155,"y":8600},{"x":157,"y":7950},{"x":158,"y":8600},{"x":160,"y":8270},{"x":161,"y":8920},{"x":162,"y":9890},{"x":163,"y":9080},{"x":165,"y":8270},{"x":166,"y":8920},{"x":168,"y":8760},{"x":170,"y":8600},{"x":172,"y":8760},{"x":174,"y":7950},{"x":175,"y":6980},{"x":177,"y":6980},{"x":178,"y":7950},{"x":179,"y":8600},{"x":181,"y":9080},{"x":182,"y":8920},{"x":184,"y":8110},{"x":186,"y":7310},{"x":188,"y":7630},{"x":189,"y":7950},{"x":191,"y":7630},{"x":192,"y":8110},{"x":194,"y":8270},{"x":195,"y":8600},{"x":196,"y":9240},{"x":197,"y":9240},{"x":198,"y":8920},{"x":199,"y":8270},{"x":200,"y":7950}],
    "sq_q_band": [{"x":0,"lo":200,"hi":800},{"x":5,"lo":300,"hi":900},{"x":10,"lo":1200,"hi":1700},{"x":15,"lo":1800,"hi":2200},{"x":20,"lo":2100,"hi":2600},{"x":25,"lo":2300,"hi":2700},{"x":30,"lo":2300,"hi":2700},{"x":40,"lo":2350,"hi":2750},{"x":50,"lo":2400,"hi":2800},{"x":55,"lo":2400,"hi":2800},{"x":60,"lo":2200,"hi":2800},{"x":63,"lo":2300,"hi":3100},{"x":66,"lo":3600,"hi":5200},{"x":70,"lo":5200,"hi":7000},{"x":75,"lo":5800,"hi":7700},{"x":80,"lo":6200,"hi":7900},{"x":85,"lo":6500,"hi":8300},{"x":90,"lo":6900,"hi":8500},{"x":95,"lo":7100,"hi":8500},{"x":100,"lo":7100,"hi":8600},{"x":105,"lo":7300,"hi":9000},{"x":110,"lo":7800,"hi":10800},{"x":115,"lo":8200,"hi":12000},{"x":120,"lo":8400,"hi":12500},{"x":125,"lo":8700,"hi":12400},{"x":130,"lo":9000,"hi":12800},{"x":135,"lo":9200,"hi":13500},{"x":140,"lo":8500,"hi":14000},{"x":145,"lo":6500,"hi":15500},{"x":148,"lo":5300,"hi":16300},{"x":150,"lo":6500,"hi":15000},{"x":155,"lo":7500,"hi":13200},{"x":160,"lo":7800,"hi":13000},{"x":165,"lo":8000,"hi":13500},{"x":170,"lo":8500,"hi":13500},{"x":175,"lo":8700,"hi":13000},{"x":180,"lo":6500,"hi":12200},{"x":183,"lo":5700,"hi":11500},{"x":185,"lo":6200,"hi":12500},{"x":190,"lo":7000,"hi":13800},{"x":195,"lo":7500,"hi":14500},{"x":197,"lo":8000,"hi":15300},{"x":200,"lo":8200,"hi":15000}],
    "sq_d_band": [{"x":0,"lo":0,"hi":600},{"x":5,"lo":100,"hi":800},{"x":10,"lo":1100,"hi":1700},{"x":15,"lo":1700,"hi":2300},{"x":20,"lo":2000,"hi":2600},{"x":25,"lo":2800,"hi":3700},{"x":30,"lo":4200,"hi":5000},{"x":35,"lo":4500,"hi":5300},{"x":40,"lo":4500,"hi":5300},{"x":45,"lo":4300,"hi":5200},{"x":50,"lo":4500,"hi":5300},{"x":55,"lo":4700,"hi":5500},{"x":60,"lo":4800,"hi":5500},{"x":65,"lo":5700,"hi":6700},{"x":70,"lo":6800,"hi":7800},{"x":75,"lo":7100,"hi":8100},{"x":80,"lo":7600,"hi":8700},{"x":85,"lo":8000,"hi":9300},{"x":90,"lo":7600,"hi":11000},{"x":95,"lo":7000,"hi":11500},{"x":100,"lo":6500,"hi":11000},{"x":105,"lo":7000,"hi":12000},{"x":110,"lo":7400,"hi":12700},{"x":115,"lo":7000,"hi":13000},{"x":120,"lo":6800,"hi":13000},{"x":125,"lo":5900,"hi":11800},{"x":130,"lo":6000,"hi":11500},{"x":135,"lo":7000,"hi":12300},{"x":140,"lo":7000,"hi":13000},{"x":145,"lo":8000,"hi":14500},{"x":150,"lo":8200,"hi":15000},{"x":155,"lo":7800,"hi":14000},{"x":160,"lo":8000,"hi":14500},{"x":165,"lo":8500,"hi":14500},{"x":170,"lo":8300,"hi":15000},{"x":175,"lo":8500,"hi":15000},{"x":180,"lo":8400,"hi":14800},{"x":185,"lo":8500,"hi":15300},{"x":190,"lo":8800,"hi":16300},{"x":195,"lo":8500,"hi":15000},{"x":200,"lo":8200,"hi":14800}],
    "sq_r_band": [{"x":0,"lo":0,"hi":800},{"x":5,"lo":100,"hi":900},{"x":10,"lo":700,"hi":1600},{"x":15,"lo":1200,"hi":2100},{"x":20,"lo":1400,"hi":2300},{"x":25,"lo":1600,"hi":2500},{"x":30,"lo":1600,"hi":2500},{"x":35,"lo":1700,"hi":2500},{"x":40,"lo":2000,"hi":2900},{"x":45,"lo":2600,"hi":3600},{"x":50,"lo":2700,"hi":4000},{"x":55,"lo":3300,"hi":4600},{"x":60,"lo":3200,"hi":4700},{"x":65,"lo":3500,"hi":4900},{"x":70,"lo":3500,"hi":6800},{"x":75,"lo":4300,"hi":8000},{"x":80,"lo":4800,"hi":8200},{"x":85,"lo":5000,"hi":8400},{"x":90,"lo":5500,"hi":9000},{"x":95,"lo":5800,"hi":9000},{"x":100,"lo":5500,"hi":9300},{"x":105,"lo":5800,"hi":9500},{"x":110,"lo":5700,"hi":9600},{"x":115,"lo":6000,"hi":9700},{"x":120,"lo":6000,"hi":9700},{"x":125,"lo":6200,"hi":9800},{"x":130,"lo":6300,"hi":10100},{"x":135,"lo":6500,"hi":10000},{"x":140,"lo":6200,"hi":9700},{"x":145,"lo":6300,"hi":9700},{"x":150,"lo":6800,"hi":9700},{"x":155,"lo":6500,"hi":9700},{"x":160,"lo":6600,"hi":10100},{"x":165,"lo":6400,"hi":10300},{"x":170,"lo":6700,"hi":10000},{"x":175,"lo":6000,"hi":9500},{"x":180,"lo":5700,"hi":9300},{"x":185,"lo":6200,"hi":9700},{"x":190,"lo":6500,"hi":10200},{"x":195,"lo":6700,"hi":10200},{"x":200,"lo":6500,"hi":9800}]
  },
  "hconcat": [
    {
      "width": 621, "height": 488,
      "title": "BankHeist",
      "encoding": {
        "x": {"field": "x", "type": "quantitative", "scale": {"domain": [-10, 210], "nice": false, "zero": false}, "axis": {"values": [0, 50, 100, 150, 200], "title": "Millions of frames"}},
        "y": {"field": "y", "type": "quantitative", "title": "Average Return", "scale": {"domain": [-62, 1192], "nice": false, "zero": false}, "axis": {"values": [0, 200, 400, 600, 800, 1000], "format": "d", "titlePadding": 10}}
      },
      "layer": [
        {"data": {"name": "bh_q_band"}, "mark": {"type": "area", "opacity": 0.15}, "encoding": {"y": {"field": "lo", "type": "quantitative", "title": "Average Return", "scale": {"domain": [-62, 1192], "nice": false, "zero": false}}, "y2": {"field": "hi"}, "color": {"datum": "QEM-DQN+QEM", "type": "nominal"}}},
        {"data": {"name": "bh_d_band"}, "mark": {"type": "area", "opacity": 0.15}, "encoding": {"y": {"field": "lo", "type": "quantitative", "title": "Average Return", "scale": {"domain": [-62, 1192], "nice": false, "zero": false}}, "y2": {"field": "hi"}, "color": {"datum": "QEM-DQN+DLTV", "type": "nominal"}}},
        {"data": {"name": "bh_r_band"}, "mark": {"type": "area", "opacity": 0.15}, "encoding": {"y": {"field": "lo", "type": "quantitative", "title": "Average Return", "scale": {"domain": [-62, 1192], "nice": false, "zero": false}}, "y2": {"field": "hi"}, "color": {"datum": "QR-DQN+DLTV", "type": "nominal"}}},
        {"data": {"name": "bh_q"}, "mark": "line", "encoding": {"color": {"datum": "QEM-DQN+QEM", "type": "nominal", "scale": {"domain": ["QEM-DQN+QEM", "QEM-DQN+DLTV", "QR-DQN+DLTV"], "range": ["#1f77b4", "#ff7f0e", "#2ca02c"]}, "legend": {"orient": "top-left", "title": null}}}},
        {"data": {"name": "bh_d"}, "mark": "line", "encoding": {"color": {"datum": "QEM-DQN+DLTV", "type": "nominal"}}},
        {"data": {"name": "bh_r"}, "mark": "line", "encoding": {"color": {"datum": "QR-DQN+DLTV", "type": "nominal"}}}
      ]
    },
    {
      "width": 618, "height": 488,
      "title": "PrivateEye",
      "encoding": {
        "x": {"field": "x", "type": "quantitative", "scale": {"domain": [-10, 210], "nice": false, "zero": false}, "axis": {"values": [0, 50, 100, 150, 200], "title": "Millions of frames"}},
        "y": {"field": "y", "type": "quantitative", "title": "Average Return", "scale": {"domain": [-354, 1462], "nice": false, "zero": false}, "axis": {"values": [-200, 0, 200, 400, 600, 800, 1000, 1200, 1400], "format": "d", "titlePadding": 16}}
      },
      "layer": [
        {"data": {"name": "pe_q_band"}, "mark": {"type": "area", "opacity": 0.15}, "encoding": {"y": {"field": "lo", "type": "quantitative", "title": "Average Return", "scale": {"domain": [-354, 1462], "nice": false, "zero": false}}, "y2": {"field": "hi"}, "color": {"datum": "QEM-DQN+QEM", "type": "nominal"}}},
        {"data": {"name": "pe_d_band"}, "mark": {"type": "area", "opacity": 0.15}, "encoding": {"y": {"field": "lo", "type": "quantitative", "title": "Average Return", "scale": {"domain": [-354, 1462], "nice": false, "zero": false}}, "y2": {"field": "hi"}, "color": {"datum": "QEM-DQN+DLTV", "type": "nominal"}}},
        {"data": {"name": "pe_r_band"}, "mark": {"type": "area", "opacity": 0.15}, "encoding": {"y": {"field": "lo", "type": "quantitative", "title": "Average Return", "scale": {"domain": [-354, 1462], "nice": false, "zero": false}}, "y2": {"field": "hi"}, "color": {"datum": "QR-DQN+DLTV", "type": "nominal"}}},
        {"data": {"name": "pe_q"}, "mark": "line", "encoding": {"color": {"datum": "QEM-DQN+QEM", "type": "nominal", "scale": {"domain": ["QEM-DQN+QEM", "QEM-DQN+DLTV", "QR-DQN+DLTV"], "range": ["#1f77b4", "#ff7f0e", "#2ca02c"]}, "legend": {"orient": "top-right", "title": null}}}},
        {"data": {"name": "pe_d"}, "mark": "line", "encoding": {"color": {"datum": "QEM-DQN+DLTV", "type": "nominal"}}},
        {"data": {"name": "pe_r"}, "mark": "line", "encoding": {"color": {"datum": "QR-DQN+DLTV", "type": "nominal"}}}
      ]
    },
    {
      "width": 619, "height": 488,
      "title": "Seaquest",
      "encoding": {
        "x": {"field": "x", "type": "quantitative", "scale": {"domain": [-10, 210], "nice": false, "zero": false}, "axis": {"values": [0, 50, 100, 150, 200], "title": "Millions of frames"}},
        "y": {"field": "y", "type": "quantitative", "title": "Average Return", "scale": {"domain": [-583, 17186], "nice": false, "zero": false}, "axis": {"values": [0, 2500, 5000, 7500, 10000, 12500, 15000], "format": "d", "titlePadding": 9}}
      },
      "layer": [
        {"data": {"name": "sq_q_band"}, "mark": {"type": "area", "opacity": 0.15}, "encoding": {"y": {"field": "lo", "type": "quantitative", "title": "Average Return", "scale": {"domain": [-583, 17186], "nice": false, "zero": false}}, "y2": {"field": "hi"}, "color": {"datum": "QEM-DQN+QEM", "type": "nominal"}}},
        {"data": {"name": "sq_d_band"}, "mark": {"type": "area", "opacity": 0.15}, "encoding": {"y": {"field": "lo", "type": "quantitative", "title": "Average Return", "scale": {"domain": [-583, 17186], "nice": false, "zero": false}}, "y2": {"field": "hi"}, "color": {"datum": "QEM-DQN+DLTV", "type": "nominal"}}},
        {"data": {"name": "sq_r_band"}, "mark": {"type": "area", "opacity": 0.15}, "encoding": {"y": {"field": "lo", "type": "quantitative", "title": "Average Return", "scale": {"domain": [-583, 17186], "nice": false, "zero": false}}, "y2": {"field": "hi"}, "color": {"datum": "QR-DQN+DLTV", "type": "nominal"}}},
        {"data": {"name": "sq_q"}, "mark": "line", "encoding": {"color": {"datum": "QEM-DQN+QEM", "type": "nominal", "scale": {"domain": ["QEM-DQN+QEM", "QEM-DQN+DLTV", "QR-DQN+DLTV"], "range": ["#1f77b4", "#ff7f0e", "#2ca02c"]}, "legend": {"orient": "top-left", "title": null}}}},
        {"data": {"name": "sq_d"}, "mark": "line", "encoding": {"color": {"datum": "QEM-DQN+DLTV", "type": "nominal"}}},
        {"data": {"name": "sq_r"}, "mark": "line", "encoding": {"color": {"datum": "QR-DQN+DLTV", "type": "nominal"}}}
      ]
    }
  ],
  "resolve": {"scale": {"color": "independent"}, "legend": {"color": "independent"}}
}
